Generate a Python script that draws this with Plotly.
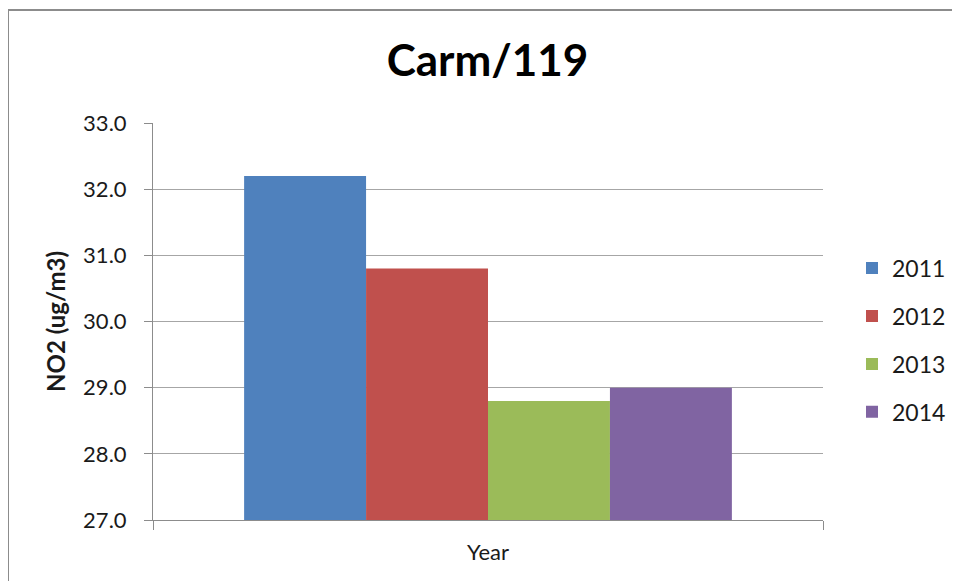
import plotly.graph_objects as go

categories = ["Year"]
series_names = ["2011", "2012", "2013", "2014"]
series_values = [32.2, 30.8, 28.8, 29.0]
colors = ["#4F81BD", "#C0504D", "#9BBB59", "#8064A2"]
y_ticks = [27.0, 28.0, 29.0, 30.0, 31.0, 32.0, 33.0]

FONT = "Lato"
TXT = "#1a1a1a"

# page body adds an 8px offset; plot area is laid out to compensate
L, R, T, B = 145, 815, 115, 512
PW, PH = R - L, B - T

fig = go.Figure()
for name, val, col in zip(series_names, series_values, colors):
    fig.add_trace(go.Bar(
        x=categories, y=[val], name=name, legendgroup=name,
        marker=dict(color=col, line=dict(width=0)),
    ))

fig.update_layout(
    width=960, height=581,
    margin=dict(l=L, r=960 - R, t=T, b=581 - B),
    paper_bgcolor="white", plot_bgcolor="white",
    barmode="group", bargap=0.272, bargroupgap=0,
    title=dict(text="<b>Carm/119</b>", x=0.4995, xanchor="center",
               y=1 - 53 / 581, yanchor="middle",
               font=dict(family=FONT, size=44, color="black")),
    font=dict(family=FONT, color=TXT),
    showlegend=True,
    legend=dict(x=(844 - L) / PW, xanchor="left", y=0.453, yanchor="middle",
                traceorder="grouped", tracegroupgap=15,
                font=dict(family=FONT, size=23, color=TXT),
                bgcolor="rgba(0,0,0,0)"),
    xaxis=dict(type="category", showgrid=False, showline=True,
               linecolor="#8c8c8c", linewidth=1,
               ticks="outside", tickson="boundaries", ticklen=9, tickcolor="#8c8c8c",
               ticklabelstandoff=13,
               tickfont=dict(family=FONT, size=22, color=TXT)),
    yaxis=dict(range=[27.0, 33.0], tickvals=y_ticks,
               ticktext=[f"{v:.1f}" for v in y_ticks],
               showgrid=True, gridcolor="#a6a6a6", gridwidth=1,
               showline=True, linecolor="#8c8c8c", linewidth=1,
               ticks="outside", ticklen=8, tickcolor="#8c8c8c",
               ticklabelstandoff=13,
               tickfont=dict(family=FONT, size=22, color=TXT),
               title=dict(text="<b>NO2 (ug/m3)</b>", standoff=10,
                          font=dict(family=FONT, size=24, color=TXT)),
               zeroline=False),
    shapes=[dict(type="rect", xref="paper", yref="paper",
                 x0=(0 - L) / PW, x1=1.4, y0=-0.3, y1=1 + (T - 2) / PH,
                 line=dict(color="#8c8c8c", width=2), fillcolor="rgba(0,0,0,0)",
                 layer="below")],
)

fig.write_html("out.html")
